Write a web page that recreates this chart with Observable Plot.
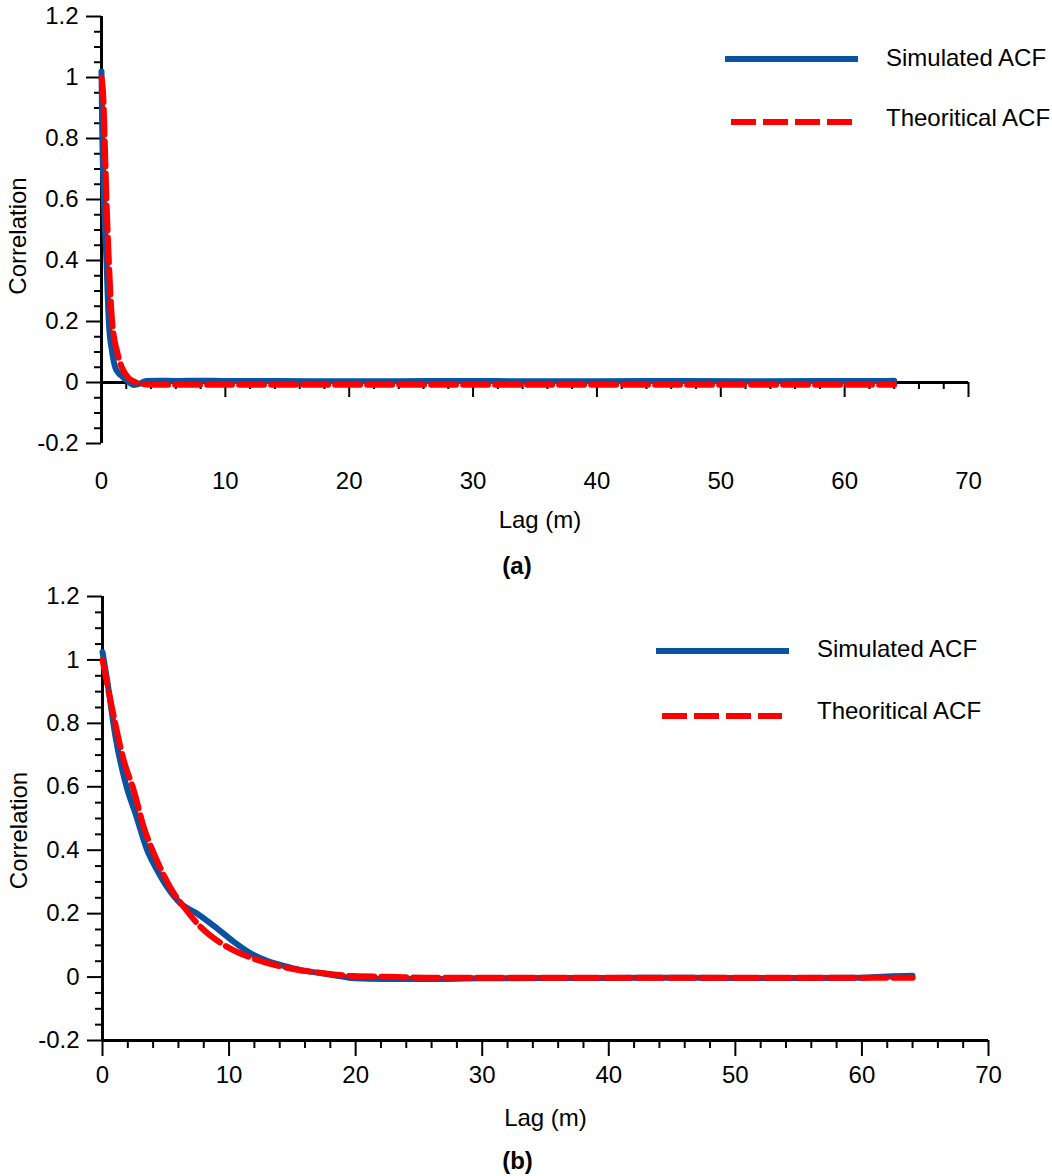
<!DOCTYPE html>
<html>
<head>
<meta charset="utf-8">
<script src="https://cdn.jsdelivr.net/npm/d3@7"></script>
<script src="https://cdn.jsdelivr.net/npm/@observablehq/plot@0.6"></script>
<style>
  body { margin: 0; background: #fff; }
  #page { position: relative; width: 1052px; height: 1176px; font-family: Arial, "Liberation Sans", sans-serif; }
  #page > svg, #page > .panel { position: absolute; left: 0; }
</style>
</head>
<body>
<div id="page"></div>
<script>
// ---- Panel (a): short correlation length ----
const lagSimA  = [0, 0.06, 0.19, 0.4, 0.59, 0.86, 1.13, 1.4, 1.67, 2.1, 2.6, 3.1, 3.6, 4.5, 6, 8, 10, 14, 20, 28, 36, 44, 52, 58, 62, 64];
const acfSimA  = [1.02, 0.82, 0.6, 0.4, 0.2, 0.1, 0.047, 0.03, 0.02, 0.005, -0.008, -0.004, 0.005, 0.006, 0.005, 0.006, 0.005, 0.005, 0.004, 0.005, 0.004, 0.005, 0.004, 0.005, 0.005, 0.006];
const lagTheoA = [0, 0.15, 0.24, 0.4, 0.59, 0.86, 1.27, 1.67, 2.2, 2.7, 3.2, 4, 10, 20, 30, 40, 50, 60, 64];
const acfTheoA = [1.0, 0.93, 0.82, 0.6, 0.4, 0.2, 0.1, 0.047, 0.014, 0.002, -0.004, -0.007, -0.007, -0.007, -0.007, -0.007, -0.007, -0.007, -0.007];

// ---- Panel (b): longer correlation length ----
const lagSimB  = [0, 0.37, 1.03, 1.9, 2.61, 3.53, 4.32, 5.11, 6.17, 7.49, 9.07, 10.38, 11.7, 13.0, 14.33, 15.65, 16.97, 18.3, 19.9, 22.2, 25, 30, 35, 40, 45, 50, 55, 60, 62, 64];
const acfSimB  = [1.025, 0.935, 0.757, 0.6, 0.515, 0.4, 0.337, 0.284, 0.232, 0.2, 0.153, 0.111, 0.075, 0.051, 0.035, 0.022, 0.014, 0.006, -0.004, -0.006, -0.006, -0.004, -0.003, -0.003, -0.002, -0.003, -0.003, -0.002, 0.002, 0.004];
const lagTheoB = [0, 0.77, 1.68, 2.47, 3.26, 4.06, 5.64, 6.43, 7.75, 9.86, 12.23, 14.86, 17.5, 19.87, 22.5, 26, 35, 45, 55, 64];
const acfTheoB = [1.0, 0.846, 0.683, 0.589, 0.473, 0.39, 0.264, 0.221, 0.158, 0.095, 0.054, 0.027, 0.012, 0.003, 0.001, -0.002, -0.002, -0.002, -0.002, -0.002];

// ---- Axes and labels ----
const xMajor = [0, 10, 20, 30, 40, 50, 60, 70];
const xMinor = d3.range(2, 70, 2).filter(v => v % 10 !== 0);
const yMajor = [-0.2, 0, 0.2, 0.4, 0.6, 0.8, 1, 1.2];
const yMinor = d3.range(-4, 25).filter(i => i % 4 !== 0).map(i => +(i * 0.05).toFixed(2));
const seriesNames = ["Simulated ACF", "Theoritical ACF"];
const xLabel = "Lag (m)";
const yLabel = "Correlation";
const panelLabels = ["(a)", "(b)"];

const BLUE = "#0a53a0";
const RED = "#ff0000";
const FONT = 'Arial, "Liberation Sans", sans-serif';
const FS = 24;

const rows = (lags, vals) => lags.map((lag, i) => ({lag, acf: vals[i]}));

function panel(cfg) {
  const marks = [
    // y axis: major & minor ticks with labels on the left
    Plot.axisY({ticks: yMajor, tickSize: 15, tickPadding: 8, strokeWidth: 2,
                tickFormat: d => String(d), label: null, fontSize: FS}),
    Plot.axisY({ticks: yMinor, tickSize: 7, strokeWidth: 2, text: null, label: null}),
    Plot.ruleX([0], {y1: -0.2, y2: 1.2, strokeWidth: 3, stroke: "black"})
  ];
  if (cfg.axisAtZero) {
    // horizontal axis drawn along correlation = 0, labels under the frame
    marks.push(
      Plot.axisX({ticks: xMajor, tickSize: 0, tickPadding: 28, label: null, fontSize: FS}),
      Plot.ruleY([0], {x1: 0, x2: 70, strokeWidth: 3, stroke: "black"}),
      Plot.ruleX(xMajor, {x: d => d, y1: 0, y2: 0, insetBottom: -15, strokeWidth: 2, stroke: "black"}),
      Plot.ruleX(xMinor, {x: d => d, y1: 0, y2: 0, insetBottom: -7, strokeWidth: 2, stroke: "black"})
    );
  } else {
    marks.push(
      Plot.axisX({ticks: xMajor, tickSize: 16, tickPadding: 9, strokeWidth: 2, label: null, fontSize: FS}),
      Plot.axisX({ticks: xMinor, tickSize: 8, strokeWidth: 2, text: null, label: null}),
      Plot.ruleY([-0.2], {x1: 0, x2: 70, strokeWidth: 3, stroke: "black"})
    );
  }
  marks.push(
    Plot.line(rows(cfg.simLag, cfg.simAcf), {x: "lag", y: "acf", stroke: BLUE, strokeWidth: 6,
      curve: "monotone-x", strokeLinejoin: "round"}),
    Plot.line(rows(cfg.theoLag, cfg.theoAcf), {x: "lag", y: "acf", stroke: RED, strokeWidth: 6,
      strokeDasharray: "25,7", curve: "monotone-x"}),
    Plot.text([xLabel], {text: d => d, frameAnchor: "bottom", textAnchor: "middle", dx: cfg.xLabelDx, dy: cfg.xLabelDy,
      lineAnchor: "bottom", fontSize: FS}),
    Plot.text([cfg.tag], {text: d => d, frameAnchor: "bottom", textAnchor: "middle", dx: cfg.tagDx, dy: cfg.tagDy,
      lineAnchor: "bottom", fontSize: FS, fontWeight: "bold"}),
    Plot.text([yLabel], {text: d => d, frameAnchor: "left", textAnchor: "middle", rotate: -90, dx: -76, dy: cfg.yLabelDy,
      lineAnchor: "bottom", fontSize: FS})
  );
  const svg = Plot.plot({
    width: 1052,
    height: cfg.height,
    marginTop: cfg.marginTop,
    marginBottom: cfg.marginBottom,
    marginLeft: cfg.marginLeft,
    marginRight: cfg.marginRight,
    x: {domain: [0, 70]},
    y: {domain: [-0.2, 1.2]},
    style: {fontFamily: FONT, fontSize: FS + "px", color: "black", background: "transparent", overflow: "visible"},
    marks
  });
  svg.style.position = "absolute";
  svg.style.left = "0px";
  svg.style.top = cfg.top + "px";
  return svg;
}

const page = document.getElementById("page");

page.appendChild(panel({
  top: 0, height: 585, marginTop: 16, marginBottom: 142, marginLeft: 101, marginRight: 84,
  axisAtZero: true,
  simLag: lagSimA, simAcf: acfSimA, theoLag: lagTheoA, theoAcf: acfTheoA,
  xLabelDx: 5, xLabelDy: 84, tag: panelLabels[0], tagDx: -18, tagDy: 130, yLabelDy: 6
}));

page.appendChild(panel({
  top: 585, height: 591, marginTop: 11, marginBottom: 136, marginLeft: 102, marginRight: 64,
  axisAtZero: false,
  simLag: lagSimB, simAcf: acfSimB, theoLag: lagTheoB, theoAcf: acfTheoB,
  xLabelDx: 0, xLabelDy: 85, tag: panelLabels[1], tagDx: -28, tagDy: 128, yLabelDy: 12
}));

// ---- Legends (one per panel) ----
const overlay = d3.select(page).append("svg")
  .attr("width", 1052).attr("height", 1176)
  .style("position", "absolute").style("left", 0).style("top", 0)
  .style("pointer-events", "none");

function legend(g, {lineX, lineW, dashX, dashW, textX, y1, y2, base1, base2}) {
  g.append("line").attr("x1", lineX).attr("x2", lineX + lineW).attr("y1", y1).attr("y2", y1)
    .attr("stroke", BLUE).attr("stroke-width", 6);
  g.append("line").attr("x1", dashX).attr("x2", dashX + dashW).attr("y1", y2).attr("y2", y2)
    .attr("stroke", RED).attr("stroke-width", 6).attr("stroke-dasharray", "25,7");
  g.append("text").attr("x", textX).attr("y", base1).text(seriesNames[0]);
  g.append("text").attr("x", textX).attr("y", base2).text(seriesNames[1]);
}

const lg = overlay.append("g").attr("font-family", FONT).attr("font-size", 24).attr("fill", "black");
legend(lg.append("g"), {lineX: 725, lineW: 133, dashX: 731, dashW: 121, textX: 886, y1: 59, y2: 122, base1: 66, base2: 126});
legend(lg.append("g"), {lineX: 656, lineW: 133, dashX: 662, dashW: 120, textX: 817, y1: 651, y2: 716, base1: 657, base2: 719});
</script>
</body>
</html>
